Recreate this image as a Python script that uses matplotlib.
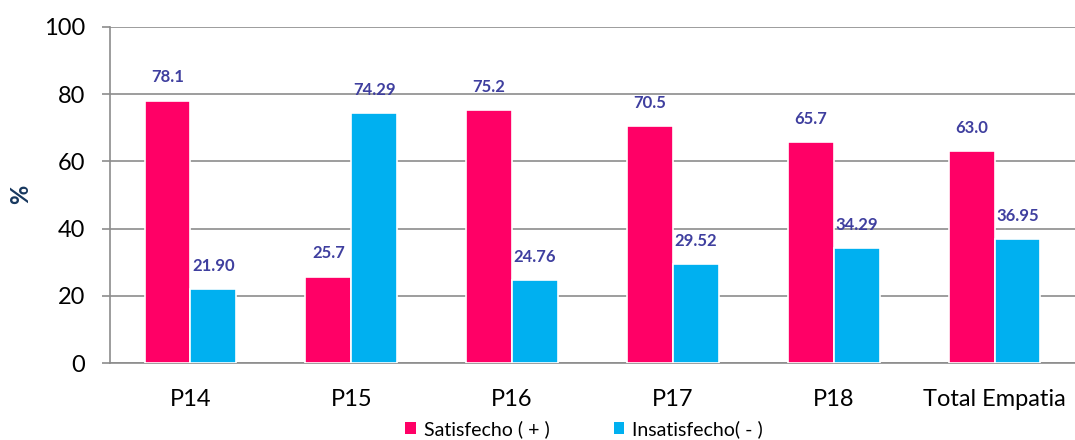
import numpy as np
import matplotlib.pyplot as plt
from matplotlib.patches import Patch

categories = ["P14", "P15", "P16", "P17", "P18", "Total Empatia"]
satisfecho = [78.1, 25.7, 75.2, 70.5, 65.7, 63.0]
insatisfecho = [21.90, 74.29, 24.76, 29.52, 34.29, 36.95]

pink = "#FF0066"
blue = "#00B0F0"
label_color = "#3F3F9F"
grid_color = "#8C8C8C"

plt.rcParams['font.family'] = ['Lato', 'DejaVu Sans']

fig = plt.figure(figsize=(10.75, 4.4), dpi=100)
ax = fig.add_axes([110 / 1075, 77 / 440, 965 / 1075, 336 / 440])

x = np.arange(len(categories))
w = 0.285
b1 = ax.bar(x - w / 2, satisfecho, w, color=pink, edgecolor="white", linewidth=1.2, zorder=3)
b2 = ax.bar(x + w / 2, insatisfecho, w, color=blue, edgecolor="white", linewidth=1.2, zorder=3)

# value labels above each bar
for rect, v in zip(b1, satisfecho):
    ax.annotate(f"{v:.1f}", (rect.get_x() + rect.get_width() / 2, v),
                xytext=(0, 11), textcoords="offset points", ha="center", va="bottom",
                color=label_color, fontsize=12, fontweight="bold")
for rect, v in zip(b2, insatisfecho):
    ax.annotate(f"{v:.2f}", (rect.get_x() + rect.get_width() / 2, v),
                xytext=(0, 11), textcoords="offset points", ha="center", va="bottom",
                color=label_color, fontsize=12, fontweight="bold")

ax.set_xlim(-0.5, len(categories) - 0.5)
ax.set_ylim(0, 100)
ax.set_yticks(range(0, 101, 20))
ax.set_xticks(x)
ax.set_xticklabels(categories, fontsize=17)
ax.tick_params(axis="y", labelsize=17, length=6, color=grid_color, width=1.2, pad=12)
ax.tick_params(axis="x", length=0, pad=19)
ax.yaxis.grid(True, color=grid_color, linewidth=1.2, zorder=0)
ax.set_axisbelow(True)

for s in ["top", "right"]:
    ax.spines[s].set_visible(False)
for s in ["left", "bottom"]:
    ax.spines[s].set_color(grid_color)
    ax.spines[s].set_linewidth(1.2)

# y-axis title placed by hand so it sits close to the figure edge
fig.text(21 / 1075, 1 - 194 / 440, "%", rotation=90, ha="center", va="center",
         fontsize=17, fontweight="bold", color="#17375E")

handles = [Patch(facecolor=pink, label="Satisfecho ( + )"),
           Patch(facecolor=blue, label="Insatisfecho( - )")]
fig.legend(handles=handles, loc="center", bbox_to_anchor=(584 / 1075, 1 - 429 / 440),
           ncol=2, frameon=False, fontsize=14, handlelength=0.55, handleheight=0.55,
           handletextpad=0.4, columnspacing=3.3)

fig.savefig("out.png", dpi=100)
